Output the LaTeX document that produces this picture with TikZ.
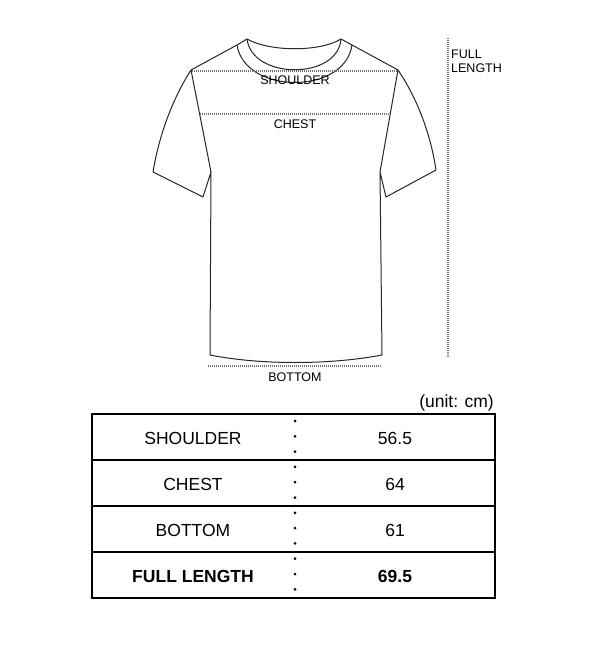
\documentclass[tikz,border=0pt]{standalone}
\usepackage{fontspec}
\setmainfont{Liberation Sans}
\begin{document}
\begin{tikzpicture}[x=1pt,y=-1pt,
  shirt/.style={draw=black!85,line width=1pt,line join=round},
  meas/.style={draw=black!55,dash pattern=on 1pt off 1pt,line width=1.2pt},
  lbl/.style={font=\fontsize{12.5}{14}\selectfont,inner sep=0pt},
  cell/.style={font=\fontsize{17.5}{19}\selectfont,inner sep=0pt}]
\useasboundingbox (0,0) rectangle (615,663);
% shirt
\draw[shirt] (237,45) .. controls (245,95) and (345,95) .. (352,45);
\draw[shirt] (247,39) .. controls (252,80) and (338,80) .. (341,39);
\draw[shirt] (247,39) .. controls (270,52) and (320,52) .. (341,39);
\draw[shirt] (247,39) -- (237,45) -- (191,70)
  .. controls (175,95) and (160,130) .. (153,172) -- (203,197) -- (211,172) -- (210,355)
  .. controls (260,365) and (330,365) .. (382,355) -- (380,172) -- (386,197) -- (436,170)
  .. controls (430,130) and (415,95) .. (398,70) -- (352,45) -- (341,39);
\draw[shirt] (191,70) -- (211,172);
\draw[shirt] (398,70) -- (380,172);
% measurements
\coordinate (s1) at (192,71); \coordinate (s2) at (398,71);
\coordinate (c1) at (200,114); \coordinate (c2) at (390,114);
\coordinate (b1) at (208,366); \coordinate (b2) at (382,366);
\coordinate (f1) at (448,38); \coordinate (f2) at (448,358);
\draw[meas] (s1) -- (s2);
\draw[meas] (c1) -- (c2);
\draw[meas] (b1) -- (b2);
\draw[meas] (f1) -- (f2);
\node[lbl] (ls) at (295,80) {SHOULDER};
\node[lbl] (lc) at (295,124) {CHEST};
\node[lbl] (lb) at (295,377) {BOTTOM};
\node[lbl,anchor=west,align=left] (lf) at (451,61) {FULL\\LENGTH};
% table
\node[cell,anchor=east] (unit) at (494,403) {(unit: cm)};
\draw[line width=2pt] (92,414) rectangle (495,598);
\foreach \y in {460,506,552} \draw[line width=2pt] (92,\y) -- (495,\y);
\draw[line width=3pt,dash pattern=on 0pt off 15.3pt,line cap=round] (295,421) -- (295,598);
\node[cell] (r1a) at (193,438) {SHOULDER};
\node[cell] (r1b) at (395,438) {56.5};
\node[cell] (r2a) at (193,484) {CHEST};
\node[cell] (r2b) at (395,484) {64};
\node[cell] (r3a) at (193,530) {BOTTOM};
\node[cell] (r3b) at (395,530) {61};
\node[cell,font=\fontsize{17.5}{19}\selectfont\bfseries] (r4a) at (193,576) {FULL LENGTH};
\node[cell,font=\fontsize{17.5}{19}\selectfont\bfseries] (r4b) at (395,576) {69.5};
\end{tikzpicture}
\end{document}
